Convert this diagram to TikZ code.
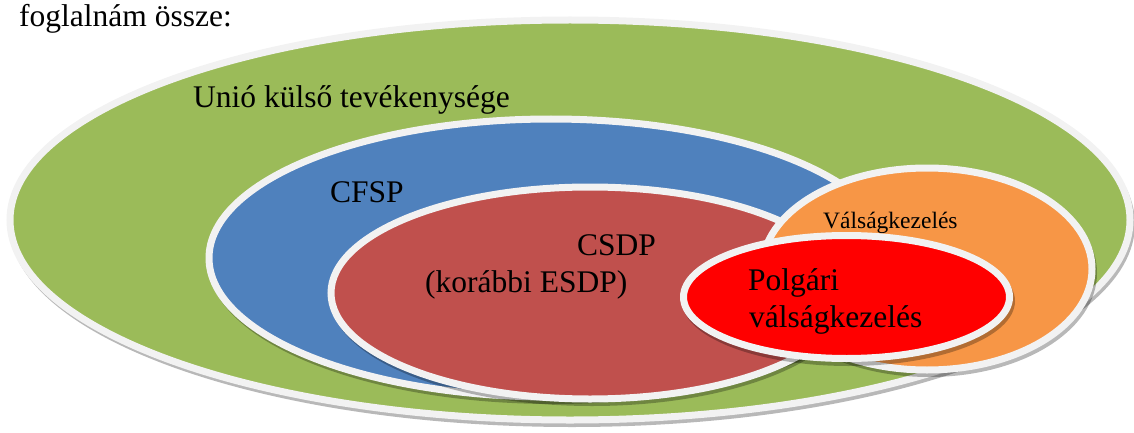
\documentclass[tikz,border=0pt]{standalone}
\usepackage{fontspec}
\setmainfont{Liberation Serif}
\definecolor{cgreen}{HTML}{9BBB59}
\definecolor{cblue}{HTML}{4F81BD}
\definecolor{cred}{HTML}{C0504D}
\definecolor{corange}{HTML}{F79646}
\definecolor{cbright}{HTML}{FF0000}
\definecolor{cborder}{HTML}{F2F2F2}
\begin{document}
\begin{tikzpicture}[x=1pt,y=-1pt,
  ring/.style={draw=cborder, line width=7pt},
  shade/.style={fill=black, opacity=0.28},
  lbl/.style={font=\fontsize{31.5}{37}\selectfont, inner sep=0pt, anchor=base west},
  smalllbl/.style={font=\fontsize{23.5}{28}\selectfont, inner sep=0pt, anchor=base west}]
\useasboundingbox (0,0) rectangle (1134,433);
\coordinate (g) at (570,220);
\coordinate (b) at (551,258);
\coordinate (r) at (590,293);
\coordinate (o) at (927,269);
\coordinate (p) at (846.5,297);
% green
\fill[shade] (g) ++(2,4) ellipse[x radius=563pt, y radius=203pt];
\path[ring, fill=cgreen] (g) ellipse[x radius=560pt, y radius=200pt];
% blue
\fill[shade] (b) ++(2,4) ellipse[x radius=345pt, y radius=142pt];
\path[ring, fill=cblue] (b) ellipse[x radius=342pt, y radius=139pt];
% red
\fill[shade] (r) ++(2,4) ellipse[x radius=262pt, y radius=109pt];
\path[ring, fill=cred] (r) ellipse[x radius=259pt, y radius=106pt];
% orange
\fill[shade] (o) ++(2,4) ellipse[x radius=168pt, y radius=104pt];
\path[ring, fill=corange] (o) ellipse[x radius=165pt, y radius=101pt];
% bright red
\fill[shade] (p) ++(2,4) ellipse[x radius=166.5pt, y radius=65pt];
\path[ring, fill=cbright] (p) ellipse[x radius=163pt, y radius=61.5pt];
% texts
\node[lbl] (t0) at (19,27) {foglalnám össze:};
\node[lbl] (t1) at (193,107) {Unió külső tevékenysége};
\node[lbl] (t2) at (330,202) {CFSP};
\node[lbl] (t3) at (577,255) {CSDP};
\node[lbl] (t4) at (425,292) {(korábbi ESDP)};
\node[smalllbl] (t5) at (823,228) {Válságkezelés};
\node[lbl] (t6) at (748,290) {Polgári};
\node[lbl] (t7) at (749,327) {válságkezelés};
\end{tikzpicture}
\end{document}
